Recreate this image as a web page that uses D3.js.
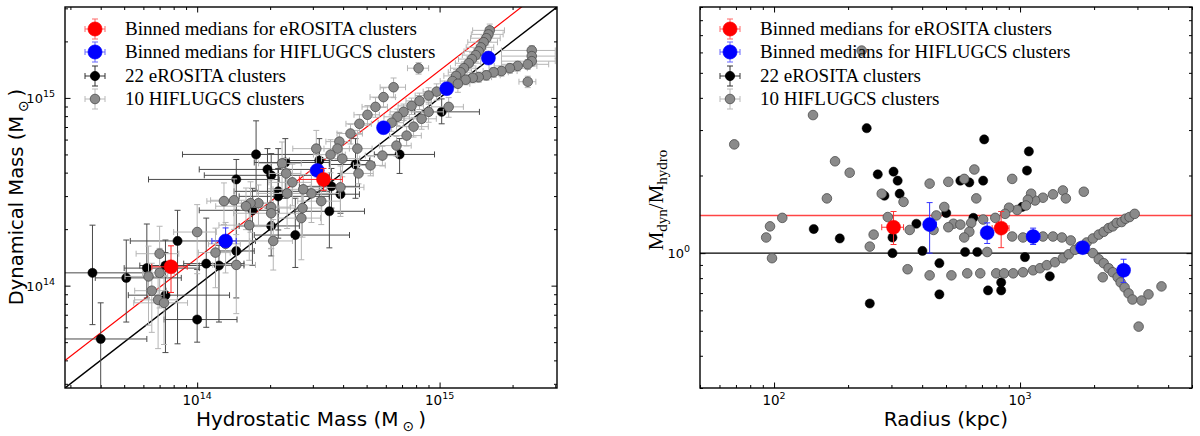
<!DOCTYPE html>
<html><head><meta charset="utf-8">
<script src="https://cdn.jsdelivr.net/npm/d3@7/dist/d3.min.js"></script>
<style>
body{margin:0;background:#fff;}
svg{display:block;font-family:"DejaVu Sans",sans-serif;}
.leg{font-family:"Liberation Serif",serif;font-size:19px;}
</style></head><body>
<svg width="1200" height="436"></svg>
<script>
// ---- left panel: masses in units of 1e14 Msun ----
// eROSITA clusters (black)
const erMhyd   = [0.37,0.40,0.51,0.62,0.74,0.74,0.83,1.00,1.09,1.23,1.45,1.45,1.69,1.75,1.95,2.02,2.16,2.16,2.02,2.31,2.54,3.19,3.58,3.90,3.51,4.50,6.84,10.2];
const erMdyn   = [1.17,0.52,1.10,1.24,1.28,0.89,1.73,0.66,1.31,1.28,1.53,3.68,2.52,5.00,4.16,3.87,3.18,2.99,2.08,4.53,1.86,4.64,3.38,3.07,2.49,4.42,5.00,8.43];
const erMhydLo = [0.28,0.28,0.38,0.50,0.58,0.52,0.53,0.73,0.88,1.02,1.18,0.63,1.02,0.87,1.02,1.07,1.42,1.49,1.49,1.72,1.72,2.40,2.64,3.04,2.52,3.51,5.38,7.88];
const erMhydHi = [0.64,0.62,0.86,1.02,1.23,1.36,1.74,1.46,1.56,1.56,1.72,2.18,2.18,3.19,3.19,3.51,3.51,3.51,2.64,3.51,4.25,5.14,4.67,4.67,4.90,5.38,9.53,14.6];
const erMdynLo = [0.62,0.27,0.64,0.86,0.86,0.44,0.49,0.50,0.60,0.64,0.86,2.52,1.28,3.22,2.59,2.43,1.98,1.79,1.44,2.92,1.25,2.92,2.59,2.43,1.59,2.92,3.96,7.28];
const erMdynHi = [2.10,0.81,1.75,2.13,1.75,1.50,2.52,1.22,2.29,1.64,2.52,4.70,3.30,7.55,5.37,5.05,5.37,4.21,2.59,6.07,2.92,6.07,4.21,3.96,3.10,6.07,6.07,9.88];

// HIFLUGCS profiles (grey), relative errors
const hifMhyd = [16.1,15.9,15.6,15.2,14.8,14.5,14.1,13.6,13.2,12.6,12.2,11.7,11.3,
  24.0,24.0,24.0,23.1,21.0,19.5,18.0,16.7,15.6,14.5,13.7,12.8,
  23.1,8.19,
  11.9,9.72,9.01,8.26,7.66,7.10,6.70,6.34,
  10.9,9.01,8.43,7.81,7.31,6.64,5.81,5.19,4.63,
  6.46,5.87,5.44,5.04,4.67,4.29,3.86,3.79,
  3.55,3.10,3.97,4.58,3.90,3.25,2.96,2.74,2.47,2.33,2.24,2.35,2.69,2.02,2.02,1.79,1.66,1.59,1.42,1.29,1.64,2.06,1.45,1.19,1.31,1.00,0.70,0.70,0.63,0.65,0.69,0.73,2.72];
const hifMdyn = [22.9,21.8,20.8,19.8,18.6,17.7,16.9,16.1,15.3,14.4,13.7,13.1,12.3,
  17.9,16.7,15.7,15.1,14.8,14.4,13.9,13.7,13.2,12.9,12.8,12.5,
  12.2,14.4,
  11.9,10.8,10.3,9.64,9.07,8.43,7.93,7.38,
  8.96,8.43,7.74,7.03,6.30,5.57,4.93,4.37,3.96,
  11.4,10.1,8.96,8.13,7.28,6.46,5.85,5.37,
  4.99,5.37,4.75,5.37,3.34,2.82,3.10,3.26,3.55,3.96,4.48,3.10,2.29,2.62,2.43,2.75,2.75,2.65,2.85,2.82,2.10,1.73,1.29,1.50,1.67,1.93,1.48,1.17,1.12,0.94,0.84,0.81,2.59];
const hifXErr = [.15,.15,.14,.14,.13,.13,.12,.12,.12,.12,.11,.11,.11,
  .25,.25,.25,.22,.20,.18,.16,.15,.14,.13,.12,.12,
  .08,.10,
  .12,.12,.12,.12,.12,.12,.12,.12,
  .15,.15,.15,.15,.15,.15,.15,.15,.15,
  .12,.12,.12,.12,.12,.12,.12,.12,
  .15,.20,.18,.15,.25,.20,.30,.25,.20,.15,.20,.25,.20,.20,.30,.15,.20,.25,.20,.15,.25,.20,.20,.15,.15,.20,.20,.15,.20,.15,.20,.25,.20];
const hifYErr = [.08,.08,.08,.08,.08,.08,.08,.08,.08,.08,.08,.08,.08,
  .06,.06,.06,.06,.06,.06,.06,.06,.06,.06,.06,.06,
  .07,.07,
  .10,.10,.10,.10,.10,.10,.10,.10,
  .12,.12,.12,.12,.12,.12,.12,.12,.12,
  .12,.12,.12,.12,.12,.12,.12,.12,
  .20,.25,.20,.25,.30,.25,.30,.20,.25,.20,.30,.35,.40,.40,.35,.25,.30,.25,.30,.25,.35,.30,.45,.35,.30,.40,.40,.35,.45,.40,.45,.40,.30];

// binned medians, left panel
const medErMhyd = [0.78,3.32], medErMhydLo = [0.65,2.64], medErMhydHi = [0.91,3.97];
const medErMdyn = [1.26,3.68], medErMdynLo = [0.92,3.22], medErMdynHi = [1.63,4.21];
const medHifMhyd = [1.31,3.13,5.87,10.7,15.9], medHifMhydLo = [1.15,2.95,5.6,10.3,15.4], medHifMhydHi = [1.45,3.32,6.1,11.1,16.4];
const medHifMdyn = [1.73,4.11,6.94,11.2,16.3], medHifMdynLo = [1.65,3.9,6.7,10.9,15.9], medHifMdynHi = [2.03,4.3,7.2,11.6,16.8];

// ---- right panel: radius (kpc) vs Mdyn/Mhydro ----
const erR     = [238,264,306,318,324,281,145,185,303,303,379,401,470,470,245,501,598,670,572,622,708,646,715,1086,1067,1019,1047,1321,838,741,838];
const erRatio = [3.05,2.02,2.07,1.91,1.70,1.67,1.24,1.14,1.15,1.00,1.30,1.02,0.914,0.692,0.638,1.43,1.01,1.01,1.91,1.88,1.91,1.37,2.76,2.48,2.09,1.51,0.965,0.813,0.770,0.717,0.717];
const hifR = [68.9,144,177,203,164,274,336,227,108,96.3,92.9,98.1,290,254,245,356,349,429,526,610,
  689,800,861,938,1028,1130,1205,1285,1387,1493,1578,1671,1750,1866,1977,2089,2188,2291,2382,2472,
  2588,2685,2786,2924,429,511,593,652,664,492,457,445,536,572,511,633,622,593,929,1816,
  1493,1535,1361,1239,1151,1109,1076,1057,973,902,869,793,708,735,929,1028,1239,1361,1479,1607,
  1977,2089,2188,2291,2382,2494,2564,2661,2761,2864,3119,3327,3758,3034,2168];
const hifRatio = [2.64,3.43,2.27,2.05,1.63,1.70,1.58,6.10,1.37,1.27,1.15,0.956,1.38,1.18,1.06,1.23,0.866,0.820,0.820,0.835,
  0.835,0.835,0.835,0.835,0.843,0.858,0.874,0.898,0.922,0.956,0.99,1.03,1.06,1.10,1.14,1.18,1.21,1.25,1.27,1.31,
  1.32,1.36,1.38,1.42,1.86,1.89,1.94,2.11,1.63,1.51,1.40,1.23,1.30,1.29,1.26,1.31,1.21,1.15,1.94,1.73,
  1.75,1.63,1.69,1.64,1.60,1.70,1.61,1.53,1.47,1.50,1.42,1.37,1.35,1.01,1.16,1.15,1.16,1.16,1.15,1.12,
  1.00,0.947,0.914,0.874,0.843,0.806,0.770,0.736,0.698,0.661,0.655,0.692,0.743,0.519,0.806];
const medErR = [306,838], medErRLo = [274,770], medErRHi = [336,902];
const medErRatio = [1.26,1.25], medErRatioLo = [1.08,1.05], medErRatioHi = [1.45,1.45];
const medHifR = [429,735,1130,1799,2636], medHifRLo = [405,697,1067,1750,2560], medHifRHi = [457,776,1205,1850,2710];
const medHifRatio = [1.29,1.20,1.16,1.05,0.858], medHifRatioLo = [1.00,1.09,1.08,1.01,0.770], medHifRatioHi = [1.57,1.31,1.25,1.10,0.947];

const ratioLine = 1.4;
const legendLabels = ["Binned medians for eROSITA clusters", "Binned medians for HIFLUGCS clusters",
  "22 eROSITA clusters", "10 HIFLUGCS clusters"];

const svg = d3.select("svg");

const xL = d3.scaleLog().domain([0.285, 30.5]).range([65, 557]);
const yL = d3.scaleLog().domain([0.285, 30.5]).range([388, 7]);
const xR = d3.scaleLog().domain([50, 5000]).range([700, 1192]);
const yR = d3.scaleLog().domain([0.3, 9]).range([388, 7]);

const GREY = "#8a8a8a", GREY_EDGE = "#4d4d4d";

function logTicks(scale) {
  const [a, b] = scale.domain();
  const major = [], minor = [];
  for (let e = Math.floor(Math.log10(a)); e <= Math.ceil(Math.log10(b)); e++) {
    for (let m = 1; m < 10; m++) {
      const v = m * Math.pow(10, e);
      if (v < a || v > b) continue;
      (m === 1 ? major : minor).push(v);
    }
  }
  return {major, minor};
}

function sup(sel, base, exp) {
  sel.text(base);
  sel.append("tspan").attr("dy", -6).attr("font-size", 9.5).text(exp);
}

function panel(x, y, id, xExp, yExp) {
  const [x0, x1] = x.range(), [y1, y0] = y.range();
  const g = svg.append("g");
  svg.append("clipPath").attr("id", id).append("rect")
    .attr("x", x0).attr("y", y0).attr("width", x1 - x0).attr("height", y1 - y0);

  const tx = logTicks(x), ty = logTicks(y);
  const axes = [
    [d3.axisBottom(x), `translate(0,${y1})`, tx],
    [d3.axisTop(x), `translate(0,${y0})`, tx],
    [d3.axisLeft(y), `translate(${x0},0)`, ty],
    [d3.axisRight(y), `translate(${x1},0)`, ty]
  ];
  axes.forEach(([ax, tr, t]) => {
    [[t.minor, 3], [t.major, 5.5]].forEach(([vals, len]) => {
      const a = g.append("g").attr("transform", tr)
        .call(ax.tickValues(vals).tickSize(-len).tickSizeOuter(0).tickFormat(""));
      a.select(".domain").remove();
      a.selectAll("line").attr("stroke", "#000").attr("stroke-width", 1);
    });
  });

  tx.major.forEach(v => {
    g.append("text").attr("x", x(v)).attr("y", y1 + 17).attr("text-anchor", "middle")
      .attr("font-size", 13.5).call(sup, "10", xExp(v));
  });
  ty.major.forEach(v => {
    g.append("text").attr("x", x0 - 10).attr("y", y(v) + 5).attr("text-anchor", "end")
      .attr("font-size", 13).call(sup, "10", yExp(v));
  });

  const data = svg.append("g").attr("clip-path", `url(#${id})`);
  svg.append("rect").attr("x", x0).attr("y", y0).attr("width", x1 - x0).attr("height", y1 - y0)
    .attr("fill", "none").attr("stroke", "#000").attr("stroke-width", 1.4);
  return data;
}

function errorBars(g, x, y, pts, color, w, cap) {
  pts.forEach(p => {
    const cx = x(p.x), cy = y(p.y);
    const s = g.append("g").attr("stroke", color).attr("stroke-width", w);
    if (p.xlo != null) {
      s.append("line").attr("x1", x(p.xlo)).attr("x2", x(p.xhi)).attr("y1", cy).attr("y2", cy);
      [p.xlo, p.xhi].forEach(v => s.append("line").attr("x1", x(v)).attr("x2", x(v))
        .attr("y1", cy - cap).attr("y2", cy + cap));
    }
    if (p.ylo != null) {
      s.append("line").attr("x1", cx).attr("x2", cx).attr("y1", y(p.ylo)).attr("y2", y(p.yhi));
      [p.ylo, p.yhi].forEach(v => s.append("line").attr("y1", y(v)).attr("y2", y(v))
        .attr("x1", cx - cap).attr("x2", cx + cap));
    }
  });
}

function dots(g, x, y, pts, r, fill, stroke, sw) {
  g.selectAll(null).data(pts).join("circle")
    .attr("cx", d => x(d.x)).attr("cy", d => y(d.y)).attr("r", r)
    .attr("fill", fill).attr("stroke", stroke).attr("stroke-width", sw);
}

function legend(x0) {
  const g = svg.append("g");
  const rows = [29, 52, 76, 99];
  const sty = [
    {r: 7, fill: "#f00", stroke: "#f00", eb: "#f66"},
    {r: 7, fill: "#00f", stroke: "#00f", eb: "#66f"},
    {r: 4.6, fill: "#000", stroke: "#000", eb: "#333"},
    {r: 4.8, fill: GREY, stroke: GREY_EDGE, eb: "#b8b8b8"}
  ];
  legendLabels.forEach((t, i) => {
    const cy = rows[i], s = sty[i], cx = x0;
    const e = g.append("g").attr("stroke", s.eb).attr("stroke-width", 1);
    e.append("line").attr("x1", cx - 10).attr("x2", cx + 10).attr("y1", cy).attr("y2", cy);
    e.append("line").attr("x1", cx).attr("x2", cx).attr("y1", cy - 10).attr("y2", cy + 10);
    [-10, 10].forEach(d => {
      e.append("line").attr("x1", cx + d).attr("x2", cx + d).attr("y1", cy - 3).attr("y2", cy + 3);
      e.append("line").attr("y1", cy + d).attr("y2", cy + d).attr("x1", cx - 3).attr("x2", cx + 3);
    });
    g.append("circle").attr("cx", cx).attr("cy", cy).attr("r", s.r)
      .attr("fill", s.fill).attr("stroke", s.stroke).attr("stroke-width", 0.8);
    g.append("text").attr("class", "leg").attr("x", cx + 30).attr("y", cy + 6).text(t);
  });
}

const zip = (xs, ys, xlo, xhi, ylo, yhi) => xs.map((v, i) => ({
  x: v, y: ys[i],
  xlo: xlo ? xlo[i] : null, xhi: xhi ? xhi[i] : null,
  ylo: ylo ? ylo[i] : null, yhi: yhi ? yhi[i] : null
}));

// ---------- left panel ----------
const gl = panel(xL, yL, "clipL", v => String(Math.round(Math.log10(v)) + 14), v => String(Math.round(Math.log10(v)) + 14));
const dom = xL.domain();
gl.append("line").attr("x1", xL(dom[0])).attr("y1", yL(dom[0])).attr("x2", xL(dom[1])).attr("y2", yL(dom[1]))
  .attr("stroke", "#000").attr("stroke-width", 1.4);
gl.append("line").attr("x1", xL(dom[0])).attr("y1", yL(dom[0] * ratioLine)).attr("x2", xL(dom[1])).attr("y2", yL(dom[1] * ratioLine))
  .attr("stroke", "#f00").attr("stroke-width", 1.2);

const erPts = zip(erMhyd, erMdyn, erMhydLo, erMhydHi, erMdynLo, erMdynHi);
const hifPts = hifMhyd.map((v, i) => ({
  x: v, y: hifMdyn[i],
  xlo: v * (1 - hifXErr[i]), xhi: v * (1 + hifXErr[i]),
  ylo: hifMdyn[i] * (1 - hifYErr[i]), yhi: hifMdyn[i] * (1 + hifYErr[i])
}));
errorBars(gl, xL, yL, erPts, "#4a4a4a", 1, 3);
dots(gl, xL, yL, erPts, 4.6, "#000", "#000", 0.5);
errorBars(gl, xL, yL, hifPts, "#b5b5b5", 1, 3);
dots(gl, xL, yL, hifPts, 4.8, GREY, GREY_EDGE, 0.8);

const medHifL = zip(medHifMhyd, medHifMdyn, medHifMhydLo, medHifMhydHi, medHifMdynLo, medHifMdynHi);
const medErL = zip(medErMhyd, medErMdyn, medErMhydLo, medErMhydHi, medErMdynLo, medErMdynHi);
errorBars(gl, xL, yL, medHifL, "#33f", 1, 3);
dots(gl, xL, yL, medHifL, 7, "#00f", "#00f", 0.5);
errorBars(gl, xL, yL, medErL, "#f22", 1, 3);
dots(gl, xL, yL, medErL, 7, "#f00", "#f00", 0.5);

// ---------- right panel ----------
const gr = panel(xR, yR, "clipR", v => String(Math.round(Math.log10(v))), v => String(Math.round(Math.log10(v))));
const rd = xR.domain();
gr.append("line").attr("x1", xR(rd[0])).attr("x2", xR(rd[1])).attr("y1", yR(1)).attr("y2", yR(1))
  .attr("stroke", "#000").attr("stroke-width", 1.4);
gr.append("line").attr("x1", xR(rd[0])).attr("x2", xR(rd[1])).attr("y1", yR(ratioLine)).attr("y2", yR(ratioLine))
  .attr("stroke", "#f44").attr("stroke-width", 1.6);

dots(gr, xR, yR, zip(erR, erRatio), 4.6, "#000", "#000", 0.5);
dots(gr, xR, yR, zip(hifR, hifRatio), 4.8, GREY, GREY_EDGE, 0.8);
const medErRt = zip(medErR, medErRatio, medErRLo, medErRHi, medErRatioLo, medErRatioHi);
const medHifRt = zip(medHifR, medHifRatio, medHifRLo, medHifRHi, medHifRatioLo, medHifRatioHi);
errorBars(gr, xR, yR, medErRt, "#f33", 1, 3);
dots(gr, xR, yR, medErRt, 7, "#f00", "#f00", 0.5);
errorBars(gr, xR, yR, medHifRt, "#33f", 1, 3);
dots(gr, xR, yR, medHifRt, 7, "#00f", "#00f", 0.5);

legend(95);
legend(730);

// ---------- axis titles ----------
const ttl = svg.append("g").attr("font-size", 20).attr("fill", "#000");
function massLabel(t, word) {
  t.text(word + " Mass (M\u2009");
  t.append("tspan").attr("dy", 5).attr("font-size", 14).text("\u2299");
  t.append("tspan").attr("dy", -5).text("\u2009)");
}
ttl.append("text").attr("x", 311).attr("y", 426).attr("text-anchor", "middle").call(massLabel, "Hydrostatic");
ttl.append("text").attr("transform", "translate(23,197) rotate(-90)").attr("text-anchor", "middle")
  .attr("font-size", 19.5).call(massLabel, "Dynamical");
ttl.append("text").attr("x", 946).attr("y", 426).attr("text-anchor", "middle").text("Radius (kpc)");

const rl = svg.append("text").attr("transform", "translate(663,200) rotate(-90)").attr("text-anchor", "middle")
  .attr("font-family", "Liberation Serif, serif").attr("font-size", 21);
rl.append("tspan").text("M");
rl.append("tspan").attr("dy", 4).attr("font-size", 15).text("dyn");
rl.append("tspan").attr("dy", -4).text("/M");
rl.append("tspan").attr("dy", 4).attr("font-size", 15).text("hydro");
</script>
</body></html>
